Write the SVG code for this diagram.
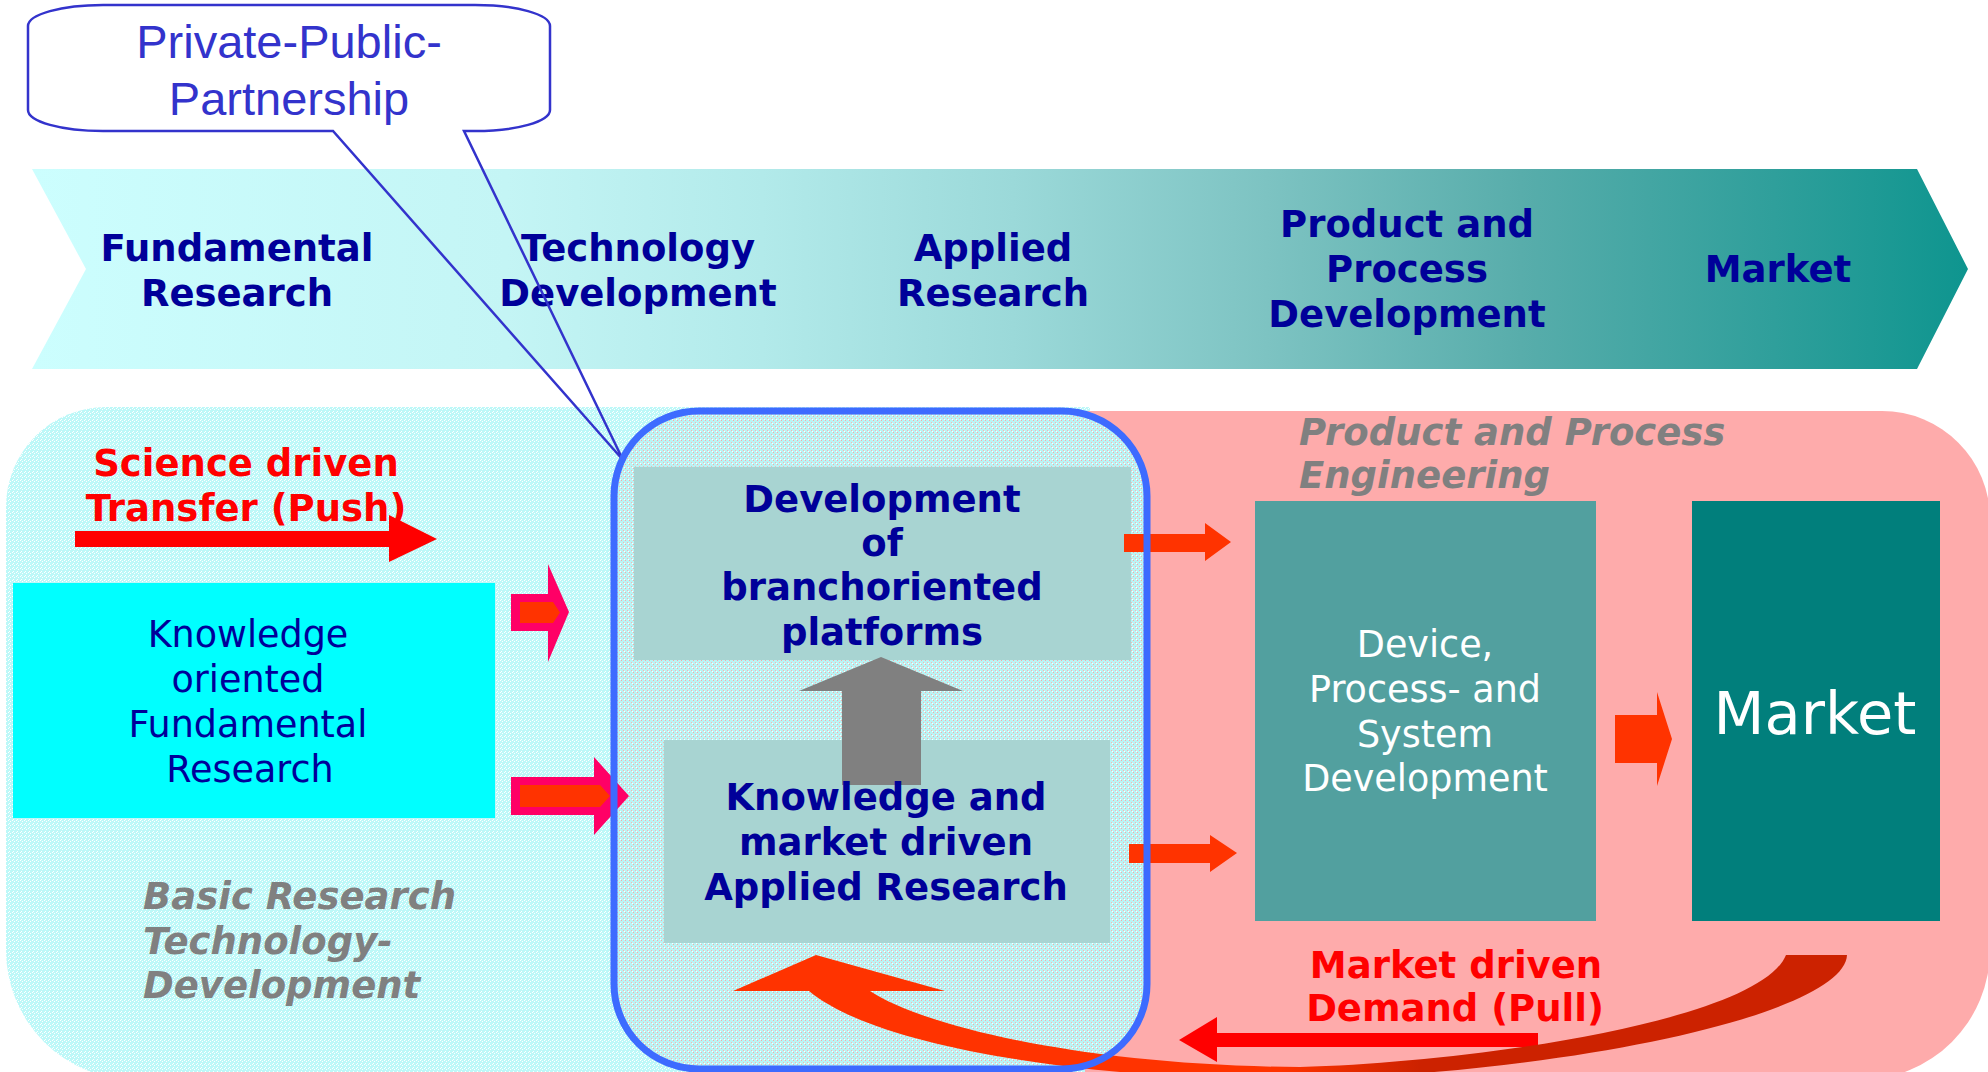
<svg xmlns="http://www.w3.org/2000/svg" width="1988" height="1072" viewBox="0 0 1988 1072">
<style>
.band{font-family:"DejaVu Sans",Verdana,sans-serif;font-weight:bold;font-size:37px;fill:#000099;text-anchor:middle}
.boxb{font-family:"DejaVu Sans",Verdana,sans-serif;font-weight:bold;font-size:37px;fill:#000099;text-anchor:middle}
.kn{font-family:"DejaVu Sans",Verdana,sans-serif;font-size:36.5px;fill:#000099;text-anchor:middle}
.red{font-family:"DejaVu Sans",Verdana,sans-serif;font-weight:bold;font-size:37px;fill:#ff0000;text-anchor:middle}
.gray{font-family:"DejaVu Sans",Verdana,sans-serif;font-weight:bold;font-style:oblique;font-size:37px;fill:#808080}
.wht{font-family:"DejaVu Sans",Verdana,sans-serif;font-size:36.5px;fill:#ffffff;text-anchor:middle}
.call{font-family:"Liberation Sans",Arial,sans-serif;font-size:47px;fill:#3333cc;text-anchor:middle}
.box{fill:#a8d4d2}
.orange{fill:#ff3300}
.magenta{fill:#ff0066}
</style>
<defs>
<linearGradient id="bandGrad" gradientUnits="userSpaceOnUse" x1="32" y1="0" x2="1968" y2="0">
<stop offset="0" stop-color="#ccfefe"/>
<stop offset="0.245" stop-color="#c4f5f5"/>
<stop offset="0.377" stop-color="#b2eaea"/>
<stop offset="0.507" stop-color="#9bd9d9"/>
<stop offset="0.638" stop-color="#7dc3c2"/>
<stop offset="0.769" stop-color="#58adab"/>
<stop offset="0.9" stop-color="#2f9f9b"/>
<stop offset="1" stop-color="#0e958f"/>
</linearGradient>
<linearGradient id="ribbonGrad" gradientUnits="userSpaceOnUse" x1="1280" y1="0" x2="1420" y2="0">
<stop offset="0" stop-color="#ff3300"/>
<stop offset="1" stop-color="#cc2200"/>
</linearGradient>
<pattern id="ditherCyan" width="4" height="4" patternUnits="userSpaceOnUse">
<rect width="4" height="4" fill="#bdf8f8"/>
<rect x="0" y="0" width="1" height="1" fill="#ffffff"/>
<rect x="2" y="1" width="1" height="1" fill="#ffffff"/>
<rect x="1" y="3" width="1" height="1" fill="#ffffff"/>
</pattern>
<pattern id="ditherMix" width="4" height="4" patternUnits="userSpaceOnUse">
<rect width="4" height="4" fill="#baf4f4"/>
<rect x="1" y="0" width="1" height="1" fill="#f6aaaa"/>
<rect x="3" y="2" width="1" height="1" fill="#f6b4b4"/>
<rect x="0" y="3" width="1" height="1" fill="#ffffff"/>
</pattern>
</defs>

<g id="process-band">
<polygon points="32,169 1917,169 1968,269 1917,369 32,369 86,269" fill="url(#bandGrad)"/>
<text class="band" x="237" y="261">Fundamental</text>
<text class="band" x="237" y="306">Research</text>
<text class="band" x="638" y="261">Technology</text>
<text class="band" x="638" y="306">Development</text>
<text class="band" x="993" y="261">Applied</text>
<text class="band" x="993" y="306">Research</text>
<text class="band" x="1407" y="237">Product and</text>
<text class="band" x="1407" y="282">Process</text>
<text class="band" x="1407" y="327">Development</text>
<text class="band" x="1778" y="282">Market</text>
</g>

<g id="basic-research-area">
<path d="M106,407 H1090 V1080 H136 A130,130 0 0 1 6,950 V507 A100,100 0 0 1 106,407 Z" fill="url(#ditherCyan)"/>
</g>
<g id="engineering-area">
<path d="M1085,411 H1882 A108,108 0 0 1 1990,519 V950 A130,130 0 0 1 1860,1080 H1085 Z" fill="#feabab"/>
</g>
<g id="ppp-area-fill">
<rect x="614" y="411" width="533" height="658" rx="85" fill="url(#ditherMix)"/>
</g>

<g id="platforms">
<rect class="box" x="634" y="467" width="497" height="193"/>
</g>
<g id="applied-research">
<rect class="box" x="664" y="740" width="446" height="203"/>
</g>
<g id="knowledge-research">
<rect x="13" y="583" width="482" height="235" fill="#00ffff"/>
</g>
<g id="device-development">
<rect x="1255" y="501" width="341" height="420" fill="#52a09f"/>
</g>
<g id="market">
<rect x="1692" y="501" width="248" height="420" fill="#017f7c"/>
</g>

<g id="connectors">
<polygon points="881,657 963,691 921,691 921,785 842,785 842,691 799,691" fill="#808080"/>
<polygon points="75,531 389,531 389,515 437,539 389,562 389,547 75,547" fill="#ff0000"/>
<polygon class="magenta" points="511,594 548,594 548,564 569,612 548,662 548,631 511,631"/>
<polygon class="orange" points="520,602 553,602 560,612.5 553,623 520,623"/>
<polygon class="magenta" points="511,777 594,777 594,757 629,796 594,835 594,815 511,815"/>
<polygon class="orange" points="520,785 600,785 610,796 600,807 520,807"/>
<polygon class="orange" points="1124,534 1205,534 1205,523 1231,542 1205,561 1205,552 1124,552"/>
<polygon class="orange" points="1129,844 1210,844 1210,835 1237,853 1210,872 1210,863 1129,863"/>
<polygon class="orange" points="1615,715 1657,715 1657,692 1672,739 1657,786 1657,763 1615,763"/>
<polygon points="1538,1033 1217,1033 1217,1017 1179,1040 1217,1062 1217,1047 1538,1047" fill="#ff0000"/>
<path d="M816,955 L945,991 L870,991 C930,1030 1100,1066 1300,1067 C1480,1062 1760,1020 1786,955 L1847,955 C1845,1010 1600,1070 1300,1080 C1100,1080 880,1050 809,991 L733,991 Z" fill="url(#ribbonGrad)"/>
<path d="M103,5 H475 A75,21 0 0 1 550,26 V110 A75,21 0 0 1 475,131 H464 L623,460 L333,131 H103 A75,21 0 0 1 28,110 V26 A75,21 0 0 1 103,5 Z" fill="none" stroke="#3333cc" stroke-width="2.5" stroke-linejoin="miter"/>
</g>

<g id="ppp-area">
<rect x="614" y="411" width="533" height="658" rx="85" fill="none" stroke="#3d6bff" stroke-width="7"/>
</g>

<g id="labels">
<text class="call" x="289" y="58">Private-Public-</text>
<text class="call" x="289" y="115">Partnership</text>
<text class="red" x="246" y="476">Science driven</text>
<text class="red" x="246" y="521">Transfer (Push)</text>
<text class="kn" x="248" y="647">Knowledge</text>
<text class="kn" x="248" y="692">oriented</text>
<text class="kn" x="248" y="737">Fundamental</text>
<text class="kn" x="250" y="782">Research</text>
<text class="gray" x="143" y="909">Basic Research</text>
<text class="gray" x="143" y="954">Technology-</text>
<text class="gray" x="143" y="998">Development</text>
<text class="boxb" x="882" y="512">Development</text>
<text class="boxb" x="882" y="556">of</text>
<text class="boxb" x="882" y="600">branchoriented</text>
<text class="boxb" x="882" y="645">platforms</text>
<text class="boxb" x="886" y="810">Knowledge and</text>
<text class="boxb" x="886" y="855">market driven</text>
<text class="boxb" x="886" y="900">Applied Research</text>
<text class="gray" x="1299" y="445">Product and Process</text>
<text class="gray" x="1299" y="488">Engineering</text>
<text class="wht" x="1425" y="657">Device,</text>
<text class="wht" x="1425" y="702">Process- and</text>
<text class="wht" x="1425" y="747">System</text>
<text class="wht" x="1425" y="791">Development</text>
<text class="wht" x="1815" y="734" style="font-size:59px">Market</text>
<text class="red" x="1456" y="978">Market driven</text>
<text class="red" x="1455" y="1021">Demand (Pull)</text>
</g>
</svg>
